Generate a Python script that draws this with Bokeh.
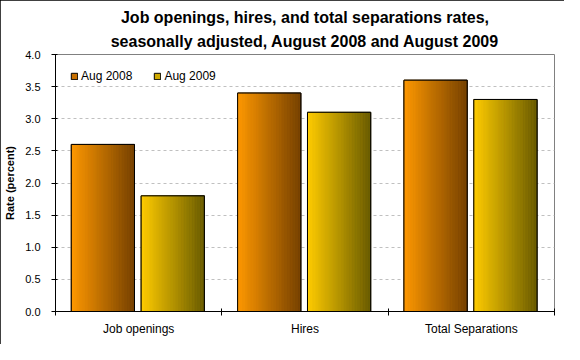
from bokeh.plotting import figure
from bokeh.models import (ColumnDataSource, FixedTicker, Title, Legend, LegendItem,
                          Range1d, CustomJSTickFormatter)
from bokeh.embed import file_html
from bokeh.resources import INLINE

# ---- data ----
categories = ["Job openings", "Hires", "Total Separations"]
aug2008 = [2.6, 3.4, 3.6]
aug2009 = [1.8, 3.1, 3.3]
series_names = ["Aug 2008", "Aug 2009"]
y_ticks = [0.0, 0.5, 1.0, 1.5, 2.0, 2.5, 3.0, 3.5, 4.0]

# ---- styles ----
grad_2008 = ((255, 153, 0), (118, 66, 0))
grad_2009 = ((255, 204, 0), (106, 92, 0))
mid_2008 = "#C87000"
mid_2009 = "#D0AA00"
FONT = "Liberation Sans"
BAR_W = 0.38

p = figure(width=564, height=344, output_backend="svg", toolbar_location=None,
           x_range=Range1d(0, 3), y_range=Range1d(0, 4),
           min_border_left=55, min_border_right=10, min_border_top=54,
           min_border_bottom=33)
p.title = None
p.background_fill_color = "white"
p.border_fill_color = "white"
p.outline_line_color = "#808080"
p.outline_line_width = 1
p.styles = {"outline": "1px solid black", "outline-offset": "-1px"}

t2 = Title(text="seasonally adjusted, August 2008 and August 2009", align="center",
           text_font=FONT, text_font_size="16px", text_font_style="bold",
           text_color="black", standoff=9)
t1 = Title(text="Job openings, hires, and total separations rates,", align="center",
           text_font=FONT, text_font_size="16px", text_font_style="bold",
           text_color="black", standoff=1)
p.add_layout(t2, "above")
p.add_layout(t1, "above")


def strips(values, offset, grad, n=40):
    L, R, T, B, C = [], [], [], [], []
    for i, v in enumerate(values):
        x0 = i + offset
        for k in range(n):
            f = k / (n - 1)
            r = int(round(grad[0][0] + (grad[1][0] - grad[0][0]) * f))
            g = int(round(grad[0][1] + (grad[1][1] - grad[0][1]) * f))
            b = int(round(grad[0][2] + (grad[1][2] - grad[0][2]) * f))
            L.append(x0 + BAR_W * k / n)
            R.append(x0 + BAR_W * (k + 1) / n)
            T.append(v)
            B.append(0)
            C.append("#%02x%02x%02x" % (r, g, b))
    return ColumnDataSource(dict(left=L, right=R, top=T, bottom=B, color=C))


def bars(values, offset):
    return ColumnDataSource(dict(left=[i + offset for i in range(len(values))],
                                 right=[i + offset + BAR_W for i in range(len(values))],
                                 top=values, bottom=[0] * len(values)))


p.xgrid.visible = False
p.ygrid.grid_line_color = "#C0C0C0"
p.ygrid.grid_line_dash = "3 3"
p.ygrid.grid_line_width = 1

legend_renderers = []
for vals, off, grad, mid in ((aug2008, 0.095, grad_2008, mid_2008),
                             (aug2009, 0.515, grad_2009, mid_2009)):
    src = bars(vals, off)
    base = p.quad(left="left", right="right", top="top", bottom="bottom", source=src,
                  fill_color=mid, line_color="black", line_width=1)
    p.quad(left="left", right="right", top="top", bottom="bottom",
           source=strips(vals, off, grad), fill_color="color", line_color="color",
           line_width=0.6)
    p.quad(left="left", right="right", top="top", bottom="bottom", source=src,
           fill_color=None, line_color="black", line_width=1)
    legend_renderers.append(base)

legend = Legend(items=[LegendItem(label=series_names[0], renderers=[legend_renderers[0]]),
                       LegendItem(label=series_names[1], renderers=[legend_renderers[1]])],
                location="top_left", orientation="horizontal",
                glyph_width=8, glyph_height=8, label_height=8,
                label_standoff=3, spacing=21, padding=0, margin=15,
                border_line_color=None, background_fill_alpha=0,
                label_text_font=FONT, label_text_font_size="12px", label_text_color="black")
p.add_layout(legend, "center")

# axes
p.yaxis.ticker = FixedTicker(ticks=y_ticks)
p.yaxis.formatter = CustomJSTickFormatter(code="return tick.toFixed(1);")
p.yaxis.axis_label = "Rate (percent)"
p.yaxis.axis_label_text_font = FONT
p.yaxis.axis_label_text_font_size = "11px"
p.yaxis.axis_label_text_font_style = "bold"
p.yaxis.axis_label_text_color = "black"
p.yaxis.axis_label_standoff = 6
p.yaxis.major_label_text_font = FONT
p.yaxis.major_label_text_font_size = "11px"
p.yaxis.major_label_text_color = "black"
p.yaxis.major_label_standoff = 11
p.yaxis.major_tick_out = 4
p.yaxis.major_tick_in = 2
p.yaxis.minor_tick_line_color = None
p.yaxis.axis_line_color = "black"
p.yaxis.major_tick_line_color = "black"

p.xaxis.ticker = FixedTicker(ticks=[0.5, 1.5, 2.5], minor_ticks=[0, 1, 2, 3])
p.xaxis.major_label_overrides = {0.5: categories[0], 1.5: categories[1], 2.5: categories[2]}
p.xaxis.major_label_text_font = FONT
p.xaxis.major_label_text_font_size = "12px"
p.xaxis.major_label_text_color = "black"
p.xaxis.major_label_standoff = 6
p.xaxis.major_tick_line_color = None
p.xaxis.major_tick_out = 0
p.xaxis.major_tick_in = 0
p.xaxis.minor_tick_line_color = "black"
p.xaxis.minor_tick_out = 4
p.xaxis.minor_tick_in = 3
p.xaxis.axis_line_color = "black"

open("out.html", "w").write(file_html(p, INLINE))
